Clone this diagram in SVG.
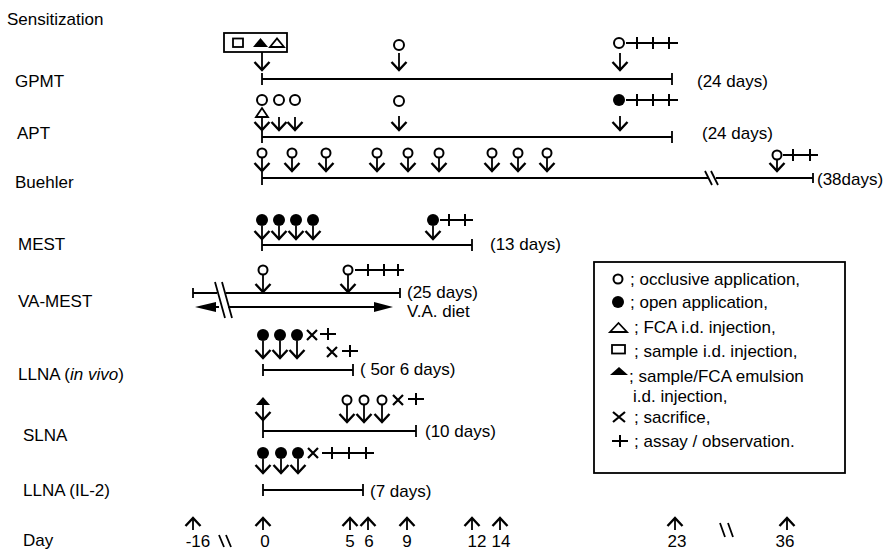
<svg xmlns="http://www.w3.org/2000/svg" xmlns:xlink="http://www.w3.org/1999/xlink" width="892" height="552" viewBox="0 0 892 552">
<style>
.t{font-family:"Liberation Sans",Arial,Helvetica,sans-serif;font-size:17px;fill:#000}
.ln{stroke:#000;stroke-width:1.8;fill:none}
.sh{stroke:#000;stroke-width:1.8;fill:none}
.oc{fill:#fff;stroke:#000;stroke-width:2}
.fc{fill:#000}
.pl{stroke:#000;stroke-width:2;fill:none}
</style>
<defs>
<path id="ah" d="M-7.5,-8 L0,0 L7.5,-8" fill="none" stroke="#000" stroke-width="2.4"/>
<path id="au" d="M-7.5,8 L0,0 L7.5,8" fill="none" stroke="#000" stroke-width="2.4"/>
<path id="x" d="M-5,-5 L5,5 M5,-5 L-5,5" stroke="#000" stroke-width="2.2" fill="none"/>
<path id="p" d="M-8,0 H8 M0,-6 V6" stroke="#000" stroke-width="2" fill="none"/>
</defs>
<rect width="892" height="552" fill="#fff"/>

<text class="t" x="7" y="25">Sensitization</text>

<g id="gpmt">
<text class="t" x="15" y="87">GPMT</text>
<rect x="224" y="33" width="63" height="19" class="ln"/>
<rect x="233" y="38.5" width="10" height="8.5" class="ln"/>
<polygon points="253,47 260.5,38 268,47" class="fc"/>
<polygon points="270,47 277,38.5 284,47" class="ln"/>
<line x1="262" y1="52" x2="262" y2="70" class="sh"/><use xlink:href="#ah" x="262" y="70"/>
<circle cx="399" cy="45" r="5" class="oc"/>
<line x1="399" y1="53" x2="399" y2="70" class="sh"/><use xlink:href="#ah" x="399" y="70"/>
<circle cx="619" cy="43" r="5" class="oc"/>
<path d="M626,43 H678 M637,37 V49 M653,37 V49 M669,37 V49" class="pl"/>
<line x1="620" y1="53" x2="620" y2="70" class="sh"/><use xlink:href="#ah" x="620" y="70"/>
<path d="M262,79 H672 M262,73 V85 M672,73 V85" class="ln"/>
<text class="t" x="697" y="87">(24 days)</text>
</g>

<g id="apt">
<text class="t" x="17" y="139">APT</text>
<circle cx="262" cy="100" r="5" class="oc"/>
<circle cx="279" cy="100" r="5" class="oc"/>
<circle cx="295" cy="100" r="5" class="oc"/>
<polygon points="256,117 262,108 268,117" class="ln"/>
<line x1="262" y1="117" x2="262" y2="130" class="sh"/><use xlink:href="#ah" x="262" y="130"/>
<line x1="279" y1="117" x2="279" y2="130" class="sh"/><use xlink:href="#ah" x="279" y="130"/>
<line x1="295" y1="117" x2="295" y2="130" class="sh"/><use xlink:href="#ah" x="295" y="130"/>
<circle cx="399" cy="101" r="5" class="oc"/>
<line x1="399" y1="116" x2="399" y2="130" class="sh"/><use xlink:href="#ah" x="399" y="130"/>
<circle cx="619" cy="100" r="6" class="fc"/>
<path d="M626,100 H678 M637,94 V106 M653,94 V106 M669,94 V106" class="pl"/>
<line x1="620" y1="116" x2="620" y2="130" class="sh"/><use xlink:href="#ah" x="620" y="130"/>
<path d="M262,137 H672 M262,131 V143 M672,131 V143" class="ln"/>
<text class="t" x="702" y="139">(24 days)</text>
</g>

<g id="buehler">
<text class="t" x="15" y="188">Buehler</text>
<g>
<circle cx="262" cy="153" r="4.5" class="oc"/><line x1="262" y1="158" x2="262" y2="171" class="sh"/><use xlink:href="#ah" x="262" y="171"/>
<circle cx="292" cy="153" r="4.5" class="oc"/><line x1="292" y1="158" x2="292" y2="171" class="sh"/><use xlink:href="#ah" x="292" y="171"/>
<circle cx="326" cy="153" r="4.5" class="oc"/><line x1="326" y1="158" x2="326" y2="171" class="sh"/><use xlink:href="#ah" x="326" y="171"/>
<circle cx="377" cy="153" r="4.5" class="oc"/><line x1="377" y1="158" x2="377" y2="171" class="sh"/><use xlink:href="#ah" x="377" y="171"/>
<circle cx="408" cy="153" r="4.5" class="oc"/><line x1="408" y1="158" x2="408" y2="171" class="sh"/><use xlink:href="#ah" x="408" y="171"/>
<circle cx="439" cy="153" r="4.5" class="oc"/><line x1="439" y1="158" x2="439" y2="171" class="sh"/><use xlink:href="#ah" x="439" y="171"/>
<circle cx="492" cy="153" r="4.5" class="oc"/><line x1="492" y1="158" x2="492" y2="171" class="sh"/><use xlink:href="#ah" x="492" y="171"/>
<circle cx="518" cy="153" r="4.5" class="oc"/><line x1="518" y1="158" x2="518" y2="171" class="sh"/><use xlink:href="#ah" x="518" y="171"/>
<circle cx="547" cy="153" r="4.5" class="oc"/><line x1="547" y1="158" x2="547" y2="171" class="sh"/><use xlink:href="#ah" x="547" y="171"/>
<circle cx="777" cy="155" r="4.5" class="oc"/><line x1="777" y1="160" x2="777" y2="171" class="sh"/><use xlink:href="#ah" x="777" y="171"/>
</g>
<path d="M783,155 H818 M793,149 V161 M810,149 V161" class="pl"/>
<path d="M262,178 H708 M716,178 H813 M262,172 V185 M813,173 V183" class="ln"/>
<path d="M705,171 L712,185 M711,171 L718,185" class="ln"/>
<text class="t" x="817" y="185">(38days)</text>
</g>

<g id="mest">
<text class="t" x="18" y="250">MEST</text>
<circle cx="262" cy="220" r="6" class="fc"/><line x1="262" y1="226" x2="262" y2="239" class="sh"/><use xlink:href="#ah" x="262" y="239"/>
<circle cx="279" cy="220" r="6" class="fc"/><line x1="279" y1="226" x2="279" y2="239" class="sh"/><use xlink:href="#ah" x="279" y="239"/>
<circle cx="296" cy="220" r="6" class="fc"/><line x1="296" y1="226" x2="296" y2="239" class="sh"/><use xlink:href="#ah" x="296" y="239"/>
<circle cx="313" cy="220" r="6" class="fc"/><line x1="313" y1="226" x2="313" y2="239" class="sh"/><use xlink:href="#ah" x="313" y="239"/>
<circle cx="433" cy="220" r="6" class="fc"/><line x1="433" y1="226" x2="433" y2="239" class="sh"/><use xlink:href="#ah" x="433" y="239"/>
<path d="M440,220 H473 M449,214 V226 M465,214 V226" class="pl"/>
<path d="M262,245 H472 M262,239 V251 M472,239 V251" class="ln"/>
<text class="t" x="490" y="250">(13 days)</text>
</g>

<g id="va-mest">
<text class="t" x="18" y="307">VA-MEST</text>
<circle cx="263" cy="270" r="4.5" class="oc"/><line x1="263" y1="275" x2="263" y2="292" class="sh"/><use xlink:href="#ah" x="263" y="292"/>
<circle cx="348" cy="270" r="4.5" class="oc"/><line x1="348" y1="275" x2="348" y2="292" class="sh"/><use xlink:href="#ah" x="348" y="292"/>
<path d="M355,270 H404 M368,264 V276 M384,264 V276 M398,264 V276" class="pl"/>
<path d="M193,293 H217 M226,293 H400 M193,288 V298 M400,288 V298" class="ln"/>
<path d="M208,307 H219 M228,307 H380" class="ln"/>
<polygon points="195,307 216,302 216,312" class="fc"/>
<polygon points="393,307 374,302 374,312" class="fc"/>
<path d="M215,282 L225,318 M222,282 L232,318" class="ln"/>
<text class="t" x="407" y="298">(25 days)</text>
<text class="t" x="407" y="317">V.A. diet</text>
</g>

<g id="llna-in-vivo">
<text class="t" x="18" y="380">LLNA (<tspan font-style="italic">in vivo</tspan>)</text>
<circle cx="263" cy="335" r="6" class="fc"/><line x1="263" y1="341" x2="263" y2="358" class="sh"/><use xlink:href="#ah" x="263" y="358"/>
<circle cx="280" cy="335" r="6" class="fc"/><line x1="280" y1="341" x2="280" y2="358" class="sh"/><use xlink:href="#ah" x="280" y="358"/>
<circle cx="297" cy="335" r="6" class="fc"/><line x1="297" y1="341" x2="297" y2="358" class="sh"/><use xlink:href="#ah" x="297" y="358"/>
<use xlink:href="#x" x="312" y="335"/><use xlink:href="#p" x="328" y="334"/>
<use xlink:href="#x" x="332" y="352"/><use xlink:href="#p" x="350" y="351"/>
<path d="M263,370 H353 M263,364 V376 M353,364 V376" class="ln"/>
<text class="t" x="360" y="375">( 5or 6 days)</text>
</g>

<g id="slna">
<text class="t" x="23" y="441">SLNA</text>
<polygon points="256,405 263,397 270,405" class="fc"/>
<line x1="263" y1="405" x2="263" y2="438" class="sh"/><use xlink:href="#ah" x="263" y="420"/>
<circle cx="347" cy="400" r="4.5" class="oc"/><line x1="347" y1="405" x2="347" y2="422" class="sh"/><use xlink:href="#ah" x="347" y="422"/>
<circle cx="364" cy="400" r="4.5" class="oc"/><line x1="364" y1="405" x2="364" y2="422" class="sh"/><use xlink:href="#ah" x="364" y="422"/>
<circle cx="382" cy="400" r="4.5" class="oc"/><line x1="382" y1="405" x2="382" y2="422" class="sh"/><use xlink:href="#ah" x="382" y="422"/>
<use xlink:href="#x" x="398" y="400"/><use xlink:href="#p" x="416" y="399"/>
<path d="M263,431 H416 M416,425 V437" class="ln"/>
<text class="t" x="425" y="437">(10 days)</text>
</g>

<g id="llna-il2">
<text class="t" x="23" y="496">LLNA (IL-2)</text>
<circle cx="263" cy="453" r="6" class="fc"/><line x1="263" y1="459" x2="263" y2="473" class="sh"/><use xlink:href="#ah" x="263" y="473"/>
<circle cx="281" cy="453" r="6" class="fc"/><line x1="281" y1="459" x2="281" y2="473" class="sh"/><use xlink:href="#ah" x="281" y="473"/>
<circle cx="298" cy="453" r="6" class="fc"/><line x1="298" y1="459" x2="298" y2="473" class="sh"/><use xlink:href="#ah" x="298" y="473"/>
<use xlink:href="#x" x="313" y="453"/>
<path d="M322,453 H374 M332,447 V459 M349,447 V459 M366,447 V459" class="pl"/>
<path d="M263,490 H363 M263,484 V496 M363,484 V496" class="ln"/>
<text class="t" x="370" y="497">(7 days)</text>
</g>

<g id="day-axis">
<text class="t" x="23" y="546">Day</text>
<g>
<line x1="193" y1="519" x2="193" y2="530" class="sh"/><use xlink:href="#au" x="193" y="518"/>
<line x1="263" y1="519" x2="263" y2="530" class="sh"/><use xlink:href="#au" x="263" y="518"/>
<line x1="350" y1="519" x2="350" y2="530" class="sh"/><use xlink:href="#au" x="350" y="518"/>
<line x1="368" y1="519" x2="368" y2="530" class="sh"/><use xlink:href="#au" x="368" y="518"/>
<line x1="407" y1="519" x2="407" y2="530" class="sh"/><use xlink:href="#au" x="407" y="518"/>
<line x1="472" y1="519" x2="472" y2="530" class="sh"/><use xlink:href="#au" x="472" y="518"/>
<line x1="500" y1="519" x2="500" y2="530" class="sh"/><use xlink:href="#au" x="500" y="518"/>
<line x1="675" y1="519" x2="675" y2="530" class="sh"/><use xlink:href="#au" x="675" y="518"/>
<line x1="787" y1="519" x2="787" y2="530" class="sh"/><use xlink:href="#au" x="787" y="518"/>
</g>
<g class="t" text-anchor="middle">
<text x="198" y="547">-16</text>
<text x="265" y="547">0</text>
<text x="350" y="547">5</text>
<text x="369" y="547">6</text>
<text x="407" y="547">9</text>
<text x="477" y="547">12</text>
<text x="501" y="547">14</text>
<text x="677" y="547">23</text>
<text x="785" y="547">36</text>
</g>
<path d="M219,535 L224,547 M226,535 L231,547" class="ln"/>
<path d="M720,523 L725,537 M728,523 L733,537" class="ln"/>
</g>

<g id="legend">
<rect x="594" y="262" width="251" height="211" class="ln"/>
<circle cx="618" cy="279" r="4.5" class="oc"/>
<text class="t" x="630" y="285">; occlusive application,</text>
<circle cx="618" cy="302" r="6" class="fc"/>
<text class="t" x="630" y="308">; open application,</text>
<polygon points="610,332 618.5,323 627,332" class="ln"/>
<text class="t" x="634" y="333">; FCA i.d. injection,</text>
<rect x="612" y="345" width="13" height="8.5" class="ln"/>
<text class="t" x="634" y="357">; sample i.d. injection,</text>
<polygon points="610,375 619,367 628,375" class="fc"/>
<text class="t" x="629" y="382">; sample/FCA emulsion</text>
<text class="t" x="633" y="402">i.d. injection,</text>
<path d="M613,412 L625,422 M625,412 L613,422" stroke="#000" stroke-width="2.2"/>
<text class="t" x="634" y="423">; sacrifice,</text>
<use xlink:href="#p" x="620" y="441"/>
<text class="t" x="634" y="447">; assay / observation.</text>
</g>
</svg>
